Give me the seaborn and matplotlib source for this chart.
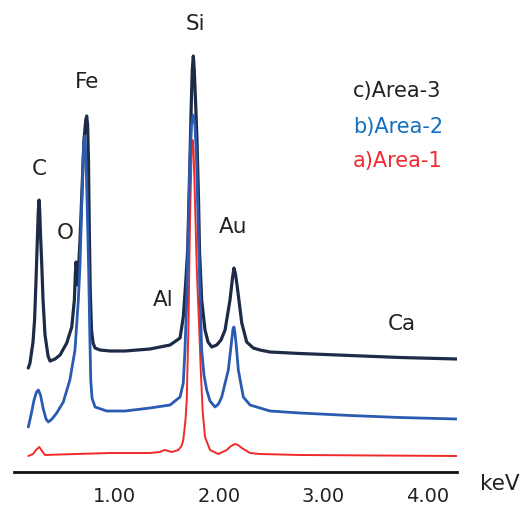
import matplotlib
matplotlib.use("Agg")
import matplotlib.pyplot as plt
import seaborn as sns
import pandas as pd

# ---- data (energy in keV, intensity in arbitrary units) ----
area3_kev = [0.176, 0.192, 0.221, 0.236, 0.250, 0.264, 0.272, 0.279, 0.285, 0.293,
             0.304, 0.317, 0.336, 0.365, 0.384, 0.432, 0.480, 0.544, 0.592, 0.617,
             0.626, 0.633, 0.641, 0.649, 0.671, 0.690, 0.709, 0.726, 0.735, 0.744,
             0.752, 0.760, 0.769, 0.781, 0.796, 0.815, 0.863, 0.958, 1.102, 1.341,
             1.533, 1.629, 1.660, 1.683, 1.702, 1.719, 1.735, 1.746, 1.756, 1.765,
             1.777, 1.791, 1.806, 1.815, 1.836, 1.868, 1.897, 1.932, 1.980, 2.021,
             2.060, 2.107, 2.131, 2.145, 2.160, 2.177, 2.220, 2.267, 2.330, 2.394,
             2.490, 2.777, 3.256, 3.734, 4.278]
area3_int = [104, 109, 130, 152, 192, 237, 262, 272, 262, 237,
             210, 172, 137, 116, 111, 113, 117, 129, 145, 172,
             197, 210, 202, 187, 232, 282, 332, 352, 356, 347,
             312, 242, 182, 142, 129, 124, 122, 121, 121, 123,
             127, 134, 155, 189, 222, 292, 362, 402, 416, 402,
             372, 332, 272, 222, 172, 142, 130, 125, 127, 132,
             142, 172, 194, 204, 198, 185, 149, 130, 124, 122,
             120, 118.5, 116.5, 114.5, 113]

area2_kev = [0.176, 0.202, 0.231, 0.255, 0.272, 0.293, 0.317, 0.346, 0.368, 0.403,
             0.448, 0.511, 0.574, 0.623, 0.655, 0.671, 0.686, 0.700, 0.708, 0.712,
             0.719, 0.729, 0.743, 0.754, 0.764, 0.774, 0.786, 0.815, 0.927, 1.102,
             1.341, 1.533, 1.629, 1.660, 1.676, 1.693, 1.708, 1.724, 1.738, 1.756,
             1.772, 1.787, 1.804, 1.817, 1.836, 1.858, 1.884, 1.916, 1.964, 1.997,
             2.028, 2.091, 2.124, 2.136, 2.145, 2.155, 2.165, 2.187, 2.235, 2.299,
             2.394, 2.490, 2.777, 3.256, 3.734, 4.278]
area2_int = [45, 57, 72, 80, 82, 77, 64, 53, 50, 53,
             59, 70, 92, 122, 172, 207, 262, 312, 330, 336,
             332, 312, 252, 202, 142, 92, 74, 65, 61, 61,
             64, 67, 75, 89, 122, 172, 242, 312, 347, 357,
             347, 312, 242, 189, 122, 97, 82, 71, 65, 68,
             75, 102, 132, 143, 145, 139, 129, 102, 75, 67,
             64, 61, 59, 56.5, 54.5, 53]

area1_kev = [0.176, 0.221, 0.250, 0.281, 0.307, 0.336, 0.480, 0.958, 1.341, 1.437,
             1.466, 1.485, 1.514, 1.552, 1.612, 1.643, 1.660, 1.681, 1.693, 1.710,
             1.724, 1.739, 1.748, 1.758, 1.772, 1.790, 1.810, 1.828, 1.846, 1.868,
             1.916, 1.995, 2.076, 2.117, 2.155, 2.184, 2.220, 2.299, 2.394, 2.777,
             4.278]
area1_int = [16, 18, 22, 25, 21, 17, 17.5, 19, 19, 20,
             21.5, 22, 21, 20, 22, 26, 32, 52, 72, 150,
             250, 317, 332, 322, 272, 200, 150, 100, 60, 35,
             22, 18, 22, 26, 28, 27, 24, 19, 18, 17,
             16]

tick_values = [1.0, 2.0, 3.0, 4.0]
tick_labels = ["1.00", "2.00", "3.00", "4.00"]

peak_names = ["C", "O", "Fe", "Al", "Si", "Au", "Ca"]
peak_text_kev = [0.276, 0.525, 0.743, 1.469, 1.772, 2.139, 3.751]
peak_text_int = [297, 233, 384, 166, 442, 239, 142]

legend_names = ["c)Area-3", "b)Area-2", "a)Area-1"]
legend_int = [375, 339, 305]

# ---- styling ----
sns.set_style("white")
plt.rcParams["font.family"] = ["DejaVu Sans"]

c_dark = "#1d2b47"
c_blue = "#2a5bb0"
c_red = "#f02a2a"
text_colors = ["#222222", "#1470bf", "#ef2a30"]

fig = plt.figure(figsize=(5.24, 5.07), dpi=100)
ax = fig.add_axes([14 / 524, 35 / 507, (456.7 - 14) / 524, 472 / 507])

df3 = pd.DataFrame({"keV": area3_kev, "I": area3_int})
df2 = pd.DataFrame({"keV": area2_kev, "I": area2_int})
df1 = pd.DataFrame({"keV": area1_kev, "I": area1_int})

sns.lineplot(data=df3, x="keV", y="I", ax=ax, color=c_dark, linewidth=2.3, zorder=2,
             estimator=None, sort=False, solid_joinstyle="round", solid_capstyle="round")
sns.lineplot(data=df1, x="keV", y="I", ax=ax, color=c_red, linewidth=1.4, zorder=3,
             estimator=None, sort=False, solid_joinstyle="round", solid_capstyle="round")
sns.lineplot(data=df2, x="keV", y="I", ax=ax, color=c_blue, linewidth=2.0, zorder=4,
             estimator=None, sort=False, solid_joinstyle="round", solid_capstyle="round")

ax.set_xlim(0.039, 4.278)
ax.set_ylim(0, 472)
ax.set_xlabel("")
ax.set_ylabel("")
for s in ["left", "right", "top"]:
    ax.spines[s].set_visible(False)
ax.spines["bottom"].set_linewidth(2.0)
ax.spines["bottom"].set_color("#111111")
ax.set_yticks([])
ax.set_xticks(tick_values)
ax.set_xticklabels(tick_labels)
ax.tick_params(axis="x", direction="in", length=8.5, width=2.0, color="#111111",
               labelsize=14, labelcolor="#222222", pad=11)
ax.patch.set_alpha(0)

for name, xk, yi in zip(peak_names, peak_text_kev, peak_text_int):
    ax.text(xk, yi, name, ha="center", va="baseline", fontsize=15.5, color="#222222")

for name, yi, col in zip(legend_names, legend_int, text_colors):
    ax.text(3.283, yi, name, ha="left", va="baseline", fontsize=15, color=col)

ax.text(4.50, -18, "keV", ha="left", va="baseline", fontsize=15.5, color="#222222",
        clip_on=False)

fig.savefig("out.png", dpi=100)
